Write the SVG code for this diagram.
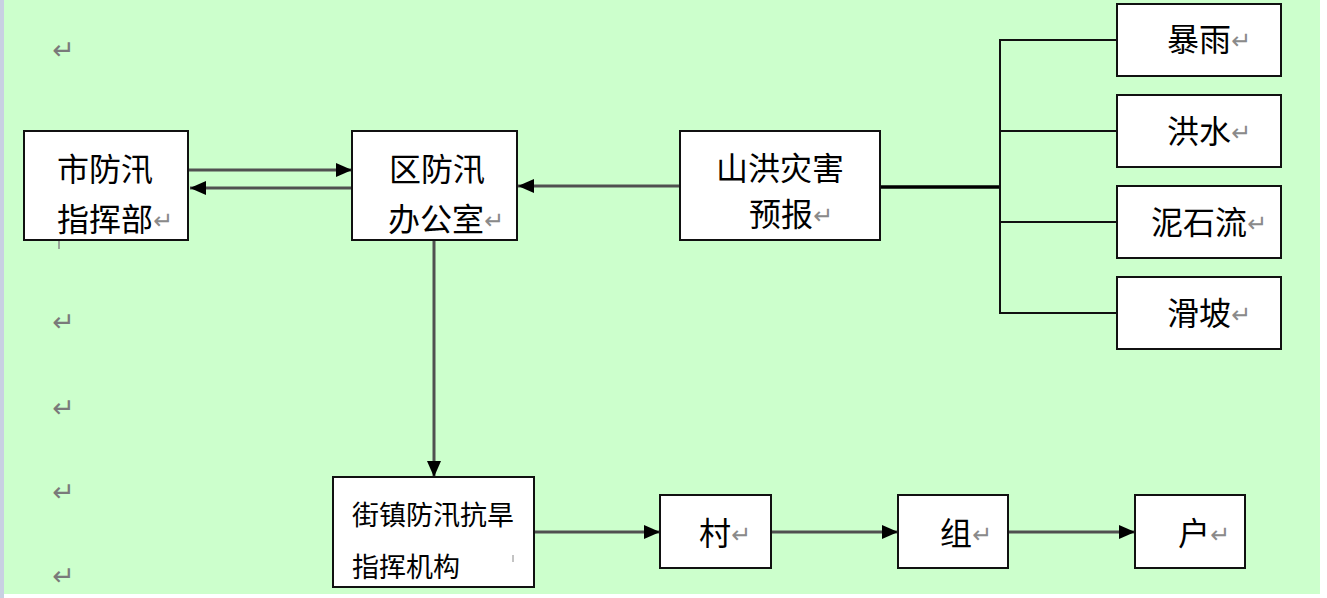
<svg xmlns="http://www.w3.org/2000/svg" width="1327" height="598" viewBox="0 0 1327 598">
<defs>
<style>
.box{fill:#fff;stroke:#111;stroke-width:2}
.t{font-family:"Noto Sans CJK SC","Noto Sans CJK JP",sans-serif;font-size:32px;fill:#000}
.s{font-family:"Noto Sans CJK SC","Noto Sans CJK JP",sans-serif;font-size:27px;fill:#000}
.pm{font-family:"DejaVu Sans",sans-serif;font-size:24px;fill:#8a8a8a}
.pl{font-family:"DejaVu Sans",sans-serif;font-size:27px;fill:#7a7a7a}
.ar{stroke:#505050;stroke-width:3;fill:none}
.ln{stroke:#111;stroke-width:2;fill:none}
</style>
<marker id="ah" markerUnits="userSpaceOnUse" markerWidth="18" markerHeight="16" refX="16" refY="8" orient="auto">
<path d="M0,1 L16,8 L0,15 Z" fill="#000"/>
</marker>
</defs>
<rect x="0" y="0" width="1327" height="598" fill="#fff"/>
<rect x="0" y="0" width="1320" height="594" fill="#CCFFCC"/>
<rect x="0" y="0" width="4" height="598" fill="#C8D0E2"/>
<g id="para-marks">
<text class="pl" x="52" y="59">↵</text>
<text class="pl" x="52" y="331">↵</text>
<text class="pl" x="52" y="417">↵</text>
<text class="pl" x="52" y="501">↵</text>
<text class="pl" x="52" y="585">↵</text>
<line x1="59" y1="241" x2="59" y2="249" stroke="#888" stroke-width="1.5"/>
</g>
<g id="connectors">
<line class="ar" x1="189" y1="170" x2="352" y2="170" marker-end="url(#ah)"/>
<line class="ar" x1="352" y1="188" x2="190" y2="188" marker-end="url(#ah)"/>
<line class="ar" x1="680" y1="186" x2="518" y2="186" marker-end="url(#ah)"/>
<line x1="880" y1="187" x2="1000" y2="187" stroke="#000" stroke-width="3.5"/>
<line class="ln" x1="1000" y1="39" x2="1000" y2="314"/>
<line class="ln" x1="1000" y1="40" x2="1117" y2="40"/>
<line class="ln" x1="1000" y1="131" x2="1117" y2="131"/>
<line class="ln" x1="1000" y1="222" x2="1117" y2="222"/>
<line class="ln" x1="1000" y1="313" x2="1117" y2="313"/>
<line class="ar" x1="434" y1="240" x2="434" y2="477" marker-end="url(#ah)"/>
<line class="ar" x1="534" y1="532" x2="660" y2="532" marker-end="url(#ah)"/>
<line class="ar" x1="771" y1="532" x2="898" y2="532" marker-end="url(#ah)"/>
<line class="ar" x1="1008" y1="532" x2="1135" y2="532" marker-end="url(#ah)"/>
</g>
<g id="n-shi">
<rect class="box" x="24" y="131" width="164" height="109"/>
<text class="t" x="57" y="181">市防汛</text>
<text class="t" x="57" y="231">指挥部<tspan class="pm" dy="-2">↵</tspan></text>
</g>
<g id="n-qu">
<rect class="box" x="352" y="131" width="165" height="109"/>
<text class="t" x="389" y="181">区防汛</text>
<text class="t" x="388" y="231">办公室<tspan class="pm" dy="-2">↵</tspan></text>
</g>
<g id="n-shanhong">
<rect class="box" x="680" y="131" width="200" height="109"/>
<text class="t" x="716" y="180">山洪灾害</text>
<text class="t" x="749" y="226">预报<tspan class="pm" dy="-2">↵</tspan></text>
</g>
<g id="n-baoyu">
<rect class="box" x="1117" y="4" width="164" height="72"/>
<text class="t" x="1167" y="51">暴雨<tspan class="pm" dy="-2">↵</tspan></text>
</g>
<g id="n-hongshui">
<rect class="box" x="1117" y="95" width="164" height="72"/>
<text class="t" x="1167" y="143">洪水<tspan class="pm" dy="-2">↵</tspan></text>
</g>
<g id="n-nishiliu">
<rect class="box" x="1117" y="186" width="164" height="72"/>
<text class="t" x="1151" y="234">泥石流<tspan class="pm" dy="-2">↵</tspan></text>
</g>
<g id="n-huapo">
<rect class="box" x="1117" y="277" width="164" height="72"/>
<text class="t" x="1167" y="325">滑坡<tspan class="pm" dy="-2">↵</tspan></text>
</g>
<g id="n-jiezhen">
<rect class="box" x="333" y="477" width="201" height="110"/>
<text class="s" x="352" y="525">街镇防汛抗旱</text>
<text class="s" x="352" y="577">指挥机构</text>
<line x1="513" y1="555" x2="513" y2="562" stroke="#888" stroke-width="1"/>
</g>
<g id="n-cun">
<rect class="box" x="660" y="495" width="111" height="73"/>
<text class="t" x="699" y="545">村<tspan class="pm" dy="-2">↵</tspan></text>
</g>
<g id="n-zu">
<rect class="box" x="898" y="495" width="110" height="73"/>
<text class="t" x="940" y="545">组<tspan class="pm" dy="-2">↵</tspan></text>
</g>
<g id="n-hu">
<rect class="box" x="1135" y="495" width="110" height="73"/>
<text class="t" x="1178" y="545">户<tspan class="pm" dy="-2">↵</tspan></text>
</g>
</svg>
